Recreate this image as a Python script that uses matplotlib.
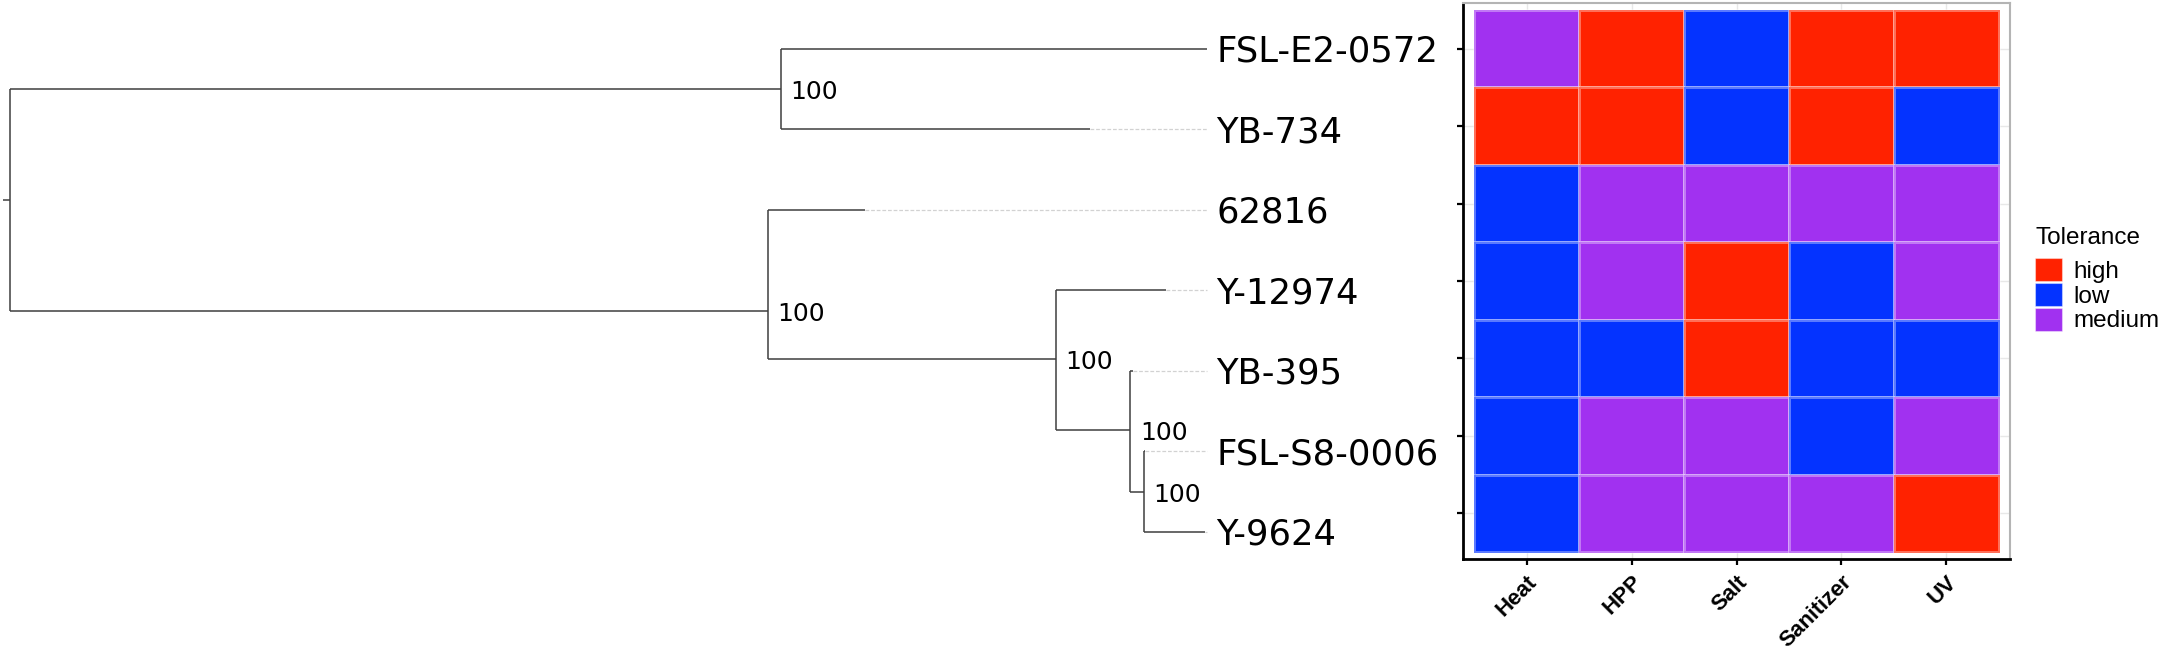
import matplotlib
matplotlib.use("Agg")
import matplotlib.pyplot as plt
from matplotlib.colors import ListedColormap
from matplotlib.patches import Patch
import numpy as np

# ---- tree (tips listed top to bottom) ----
tips = ["FSL-E2-0572", "YB-734", "62816", "Y-12974", "YB-395", "FSL-S8-0006", "Y-9624"]
tip_parent = ["A", "A", "B", "C", "D", "E", "E"]
tip_depth = [1.0, 0.902, 0.714, 0.966, 0.938, 0.948, 0.998]

node_names = ["root", "A", "B", "C", "D", "E"]
node_parent = [None, "root", "root", "B", "C", "D"]
node_depth = [0.0, 0.644, 0.633, 0.874, 0.936, 0.947]
node_y = [1.875, 0.5, 3.25, 3.85, 4.73, 5.5]
node_support = [None, 100, 100, 100, 100, 100]
root_edge = 0.0055

# ---- heatmap ----
treatments = ["Heat", "HPP", "Salt", "Sanitizer", "UV"]
tolerance = [
    ["medium", "high", "low", "high", "high"],
    ["high", "high", "low", "high", "low"],
    ["low", "medium", "medium", "medium", "medium"],
    ["low", "medium", "high", "low", "medium"],
    ["low", "low", "high", "low", "low"],
    ["low", "medium", "medium", "low", "medium"],
    ["low", "medium", "medium", "medium", "high"],
]
levels = ["high", "low", "medium"]
level_colors = ["#FF2200", "#0433FF", "#A131F0"]

W, H = 2166, 648
fig = plt.figure(figsize=(W / 100, H / 100), dpi=100)

# tree axes
tax = fig.add_axes([0, 0, 1463 / W, 1])
tax.set_xlim(-9.5 / 1197.5, (1463 - 9.5) / 1197.5)
tax.set_ylim((H - 49) / 80.5, -49 / 80.5)
tax.axis("off")

branch_col = "#3f3f3f"
lw = 1.1
pos = {n: (d, y) for n, d, y in zip(node_names, node_depth, node_y)}
children = {n: [] for n in node_names}
for n, p in zip(node_names, node_parent):
    if p is not None:
        children[p].append(pos[n][1])
for i, p in enumerate(tip_parent):
    children[p].append(i)

# root stub
rx, ry = pos["root"]
tax.plot([rx - root_edge, rx], [ry, ry], color=branch_col, lw=lw, solid_capstyle="butt")

for n, p, sup in zip(node_names, node_parent, node_support):
    x, y = pos[n]
    ys = children[n]
    tax.plot([x, x], [min(ys), max(ys)], color=branch_col, lw=lw, solid_capstyle="butt")
    if p is not None:
        tax.plot([pos[p][0], x], [y, y], color=branch_col, lw=lw, solid_capstyle="butt")
    if sup is not None:
        tax.text(x + 0.008, y + 0.125, str(sup), fontsize=18, family="DejaVu Sans",
                 ha="left", va="baseline", color="black")

tip_end = max(tip_depth)
for i, (name, p, d) in enumerate(zip(tips, tip_parent, tip_depth)):
    px = pos[p][0]
    tax.plot([px, d], [i, i], color=branch_col, lw=lw, solid_capstyle="butt")
    if d < tip_end:
        tax.plot([d, tip_end], [i, i], color="#d2d2d2", lw=0.9, ls=(0, (3, 1.5)))
    tax.text(tip_end + 0.008, i + 0.16, name, fontsize=25.5, family="DejaVu Sans",
             ha="left", va="baseline", color="black")

# heatmap axes
hax = fig.add_axes([1463 / W, 1 - 559 / H, 547 / W, 556 / H])
codes = np.array([[levels.index(v) for v in row] for row in tolerance])
cmap = ListedColormap(level_colors)
xe = np.arange(len(treatments) + 1) - 0.5
ye = np.arange(len(tips) + 1) - 0.5
hax.pcolormesh(xe, ye, codes, cmap=cmap, vmin=-0.5, vmax=2.5,
               edgecolors=(1, 1, 1, 0.35), linewidth=0.8, zorder=2)
hax.set_xlim(-0.5 - 0.105, len(treatments) - 0.5 + 0.105)
hax.set_ylim(len(tips) - 0.5 + 0.09, -0.5 - 0.09)
hax.set_xticks(range(len(treatments)))
hax.set_yticks(range(len(tips)))
hax.set_yticklabels([])
hax.set_xticklabels(treatments, rotation=45, ha="right", va="top",
                    rotation_mode="anchor", fontsize=16, fontweight="bold",
                    family="Liberation Sans")
hax.set_axisbelow(True)
hax.grid(color="#e8e8e8", lw=1.0, zorder=0)
hax.tick_params(axis="both", length=4, width=1.6, color="black", pad=5)
for s in ["left", "bottom"]:
    hax.spines[s].set_color("black")
    hax.spines[s].set_linewidth(2.0)
for s in ["top", "right"]:
    hax.spines[s].set_color("#b4b4b4")
    hax.spines[s].set_linewidth(1.5)

# legend
fig.text(2035 / W, 1 - 244 / H, "Tolerance", family="Liberation Sans", fontsize=17.5,
         ha="left", va="baseline")
handles = [Patch(facecolor=c, edgecolor=(1, 1, 1, 0.4), lw=0.8) for c in level_colors]
fig.legend(handles, levels, loc="upper left",
           bbox_to_anchor=(2035 / W, 1 - 258 / H), frameon=False,
           borderpad=0, borderaxespad=0, labelspacing=0,
           handlelength=1.12, handleheight=1.08, handletextpad=0.45,
           prop={"family": "Liberation Sans", "size": 17.5})

fig.savefig("out.png", dpi=100)
